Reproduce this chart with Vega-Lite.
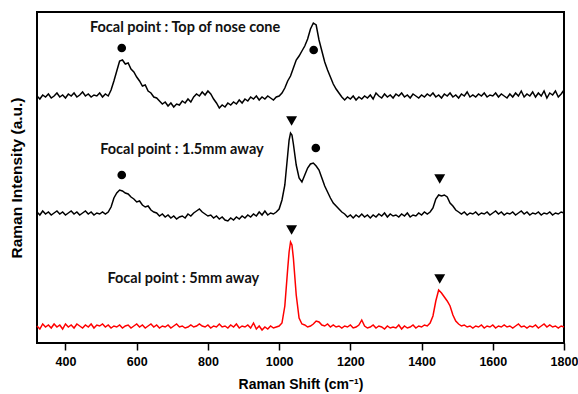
{
  "$schema": "https://vega.github.io/schema/vega-lite/v6.json",
  "autosize": "none",
  "width": 527,
  "height": 331,
  "padding": {"left": 37, "top": 12, "right": 14, "bottom": 51},
  "background": "white",
  "config": {
    "view": {"stroke": "black", "strokeWidth": 2},
    "axis": {"domain": false, "grid": false}
  },
  "datasets": {
    "top": [
      {"x":320,"y":247},{"x":328,"y":244},{"x":336,"y":248},{"x":344,"y":246},{"x":352,"y":249},{"x":360,"y":245},{"x":368,"y":247},{"x":376,"y":250},{"x":384,"y":246},{"x":392,"y":248},
      {"x":400,"y":245},{"x":408,"y":249},{"x":416,"y":247},{"x":424,"y":250},{"x":432,"y":246},{"x":440,"y":248},{"x":448,"y":251},{"x":456,"y":247},{"x":464,"y":249},{"x":472,"y":246},
      {"x":480,"y":248},{"x":488,"y":247},{"x":496,"y":250},{"x":504,"y":246},{"x":512,"y":249},{"x":520,"y":247},{"x":528,"y":253},{"x":536,"y":262},{"x":544,"y":272},{"x":552,"y":282},
      {"x":560,"y":283},{"x":568,"y":279},{"x":576,"y":280},{"x":584,"y":274},{"x":592,"y":271},{"x":600,"y":266},{"x":608,"y":262},{"x":616,"y":257},{"x":624,"y":258},{"x":632,"y":252},
      {"x":640,"y":250},{"x":648,"y":246},{"x":656,"y":245},{"x":664,"y":242},{"x":672,"y":239},{"x":680,"y":241},{"x":688,"y":237},{"x":696,"y":240},{"x":704,"y":236},{"x":712,"y":239},
      {"x":720,"y":238},{"x":728,"y":242},{"x":736,"y":240},{"x":744,"y":244},{"x":752,"y":241},{"x":760,"y":246},{"x":768,"y":249},{"x":776,"y":247},{"x":784,"y":251},{"x":792,"y":248},
      {"x":800,"y":252},{"x":808,"y":249},{"x":816,"y":244},{"x":824,"y":240},{"x":832,"y":235},{"x":840,"y":238},{"x":848,"y":236},{"x":856,"y":240},{"x":864,"y":238},{"x":872,"y":241},
      {"x":880,"y":239},{"x":888,"y":243},{"x":896,"y":240},{"x":904,"y":244},{"x":912,"y":242},{"x":920,"y":246},{"x":928,"y":244},{"x":936,"y":247},{"x":944,"y":243},{"x":952,"y":246},
      {"x":960,"y":244},{"x":968,"y":247},{"x":976,"y":245},{"x":984,"y":243},{"x":992,"y":246},{"x":1000,"y":247},{"x":1008,"y":250},{"x":1016,"y":255},{"x":1024,"y":262},{"x":1032,"y":267},
      {"x":1040,"y":275},{"x":1048,"y":283},{"x":1056,"y":287},{"x":1064,"y":292},{"x":1072,"y":297},{"x":1080,"y":304},{"x":1088,"y":314},{"x":1096,"y":320},{"x":1104,"y":318},{"x":1112,"y":303},
      {"x":1120,"y":292},{"x":1128,"y":281},{"x":1136,"y":273},{"x":1144,"y":266},{"x":1152,"y":259},{"x":1160,"y":254},{"x":1168,"y":250},{"x":1176,"y":246},{"x":1184,"y":243},{"x":1192,"y":246},
      {"x":1200,"y":244},{"x":1208,"y":247},{"x":1216,"y":243},{"x":1224,"y":246},{"x":1232,"y":244},{"x":1240,"y":247},{"x":1248,"y":245},{"x":1256,"y":248},{"x":1264,"y":244},{"x":1272,"y":250},
      {"x":1280,"y":247},{"x":1288,"y":245},{"x":1296,"y":249},{"x":1304,"y":246},{"x":1312,"y":248},{"x":1320,"y":245},{"x":1328,"y":249},{"x":1336,"y":247},{"x":1344,"y":250},{"x":1352,"y":246},
      {"x":1360,"y":248},{"x":1368,"y":245},{"x":1376,"y":249},{"x":1384,"y":247},{"x":1392,"y":245},{"x":1400,"y":248},{"x":1408,"y":246},{"x":1416,"y":249},{"x":1424,"y":247},{"x":1432,"y":250},
      {"x":1440,"y":246},{"x":1448,"y":248},{"x":1456,"y":245},{"x":1464,"y":249},{"x":1472,"y":247},{"x":1480,"y":250},{"x":1488,"y":246},{"x":1496,"y":248},{"x":1504,"y":245},{"x":1512,"y":249},
      {"x":1520,"y":247},{"x":1528,"y":251},{"x":1536,"y":246},{"x":1544,"y":248},{"x":1552,"y":246},{"x":1560,"y":249},{"x":1568,"y":247},{"x":1576,"y":250},{"x":1584,"y":246},{"x":1592,"y":248},
      {"x":1600,"y":247},{"x":1608,"y":250},{"x":1616,"y":246},{"x":1624,"y":249},{"x":1632,"y":247},{"x":1640,"y":245},{"x":1648,"y":249},{"x":1656,"y":246},{"x":1664,"y":250},{"x":1672,"y":247},
      {"x":1680,"y":252},{"x":1688,"y":246},{"x":1696,"y":249},{"x":1704,"y":247},{"x":1712,"y":251},{"x":1720,"y":246},{"x":1728,"y":250},{"x":1736,"y":247},{"x":1744,"y":252},{"x":1752,"y":245},
      {"x":1760,"y":250},{"x":1768,"y":248},{"x":1776,"y":252},{"x":1784,"y":246},{"x":1792,"y":249},{"x":1800,"y":253}
    ],
    "mid": [
      {"x":320,"y":131},{"x":328,"y":128},{"x":336,"y":132},{"x":344,"y":129},{"x":352,"y":131},{"x":360,"y":128},{"x":368,"y":130},{"x":376,"y":132},{"x":384,"y":129},{"x":392,"y":131},
      {"x":400,"y":128},{"x":408,"y":130},{"x":416,"y":132},{"x":424,"y":129},{"x":432,"y":131},{"x":440,"y":128},{"x":448,"y":130},{"x":456,"y":132},{"x":464,"y":129},{"x":472,"y":131},
      {"x":480,"y":128},{"x":488,"y":130},{"x":496,"y":129},{"x":504,"y":131},{"x":512,"y":129},{"x":520,"y":131},{"x":528,"y":136},{"x":536,"y":145},{"x":544,"y":150},{"x":552,"y":153},
      {"x":560,"y":152},{"x":568,"y":150},{"x":576,"y":149},{"x":584,"y":146},{"x":592,"y":144},{"x":600,"y":141},{"x":608,"y":142},{"x":616,"y":138},{"x":624,"y":136},{"x":632,"y":137},
      {"x":640,"y":133},{"x":648,"y":131},{"x":656,"y":130},{"x":664,"y":127},{"x":672,"y":129},{"x":680,"y":126},{"x":688,"y":128},{"x":696,"y":125},{"x":704,"y":127},{"x":712,"y":124},
      {"x":720,"y":126},{"x":728,"y":127},{"x":736,"y":125},{"x":744,"y":129},{"x":752,"y":127},{"x":760,"y":130},{"x":768,"y":132},{"x":776,"y":134},{"x":784,"y":131},{"x":792,"y":129},
      {"x":800,"y":127},{"x":808,"y":128},{"x":816,"y":125},{"x":824,"y":127},{"x":832,"y":124},{"x":840,"y":126},{"x":848,"y":123},{"x":856,"y":122},{"x":864,"y":125},{"x":872,"y":123},
      {"x":880,"y":126},{"x":888,"y":124},{"x":896,"y":127},{"x":904,"y":125},{"x":912,"y":128},{"x":920,"y":126},{"x":928,"y":129},{"x":936,"y":127},{"x":944,"y":131},{"x":952,"y":128},
      {"x":960,"y":132},{"x":968,"y":128},{"x":976,"y":130},{"x":984,"y":129},{"x":992,"y":131},{"x":1000,"y":134},{"x":1008,"y":143},{"x":1016,"y":158},{"x":1024,"y":188},{"x":1028,"y":203},
      {"x":1032,"y":210},{"x":1036,"y":208},{"x":1040,"y":199},{"x":1048,"y":178},{"x":1056,"y":165},{"x":1064,"y":161},{"x":1072,"y":168},{"x":1080,"y":175},{"x":1088,"y":179},{"x":1096,"y":180},
      {"x":1104,"y":177},{"x":1112,"y":173},{"x":1120,"y":165},{"x":1128,"y":157},{"x":1136,"y":151},{"x":1144,"y":145},{"x":1152,"y":140},{"x":1160,"y":137},{"x":1168,"y":134},{"x":1176,"y":131},
      {"x":1184,"y":129},{"x":1192,"y":126},{"x":1200,"y":128},{"x":1208,"y":125},{"x":1216,"y":128},{"x":1224,"y":126},{"x":1232,"y":129},{"x":1240,"y":126},{"x":1248,"y":128},{"x":1256,"y":125},
      {"x":1264,"y":128},{"x":1272,"y":126},{"x":1280,"y":129},{"x":1288,"y":127},{"x":1296,"y":130},{"x":1304,"y":126},{"x":1312,"y":129},{"x":1320,"y":127},{"x":1328,"y":128},{"x":1336,"y":126},
      {"x":1344,"y":129},{"x":1352,"y":127},{"x":1360,"y":130},{"x":1368,"y":126},{"x":1376,"y":128},{"x":1384,"y":127},{"x":1392,"y":130},{"x":1400,"y":128},{"x":1408,"y":131},{"x":1416,"y":129},
      {"x":1424,"y":131},{"x":1432,"y":135},{"x":1440,"y":144},{"x":1448,"y":148},{"x":1456,"y":147},{"x":1464,"y":148},{"x":1472,"y":146},{"x":1480,"y":140},{"x":1488,"y":137},{"x":1496,"y":133},
      {"x":1504,"y":131},{"x":1512,"y":129},{"x":1520,"y":131},{"x":1528,"y":128},{"x":1536,"y":130},{"x":1544,"y":129},{"x":1552,"y":131},{"x":1560,"y":128},{"x":1568,"y":130},{"x":1576,"y":129},
      {"x":1584,"y":131},{"x":1592,"y":128},{"x":1600,"y":130},{"x":1608,"y":132},{"x":1616,"y":129},{"x":1624,"y":131},{"x":1632,"y":128},{"x":1640,"y":130},{"x":1648,"y":129},{"x":1656,"y":131},
      {"x":1664,"y":128},{"x":1672,"y":130},{"x":1680,"y":132},{"x":1688,"y":129},{"x":1696,"y":131},{"x":1704,"y":128},{"x":1712,"y":130},{"x":1720,"y":129},{"x":1728,"y":131},{"x":1736,"y":128},
      {"x":1744,"y":130},{"x":1752,"y":129},{"x":1760,"y":131},{"x":1768,"y":128},{"x":1776,"y":130},{"x":1784,"y":129},{"x":1792,"y":131},{"x":1800,"y":130}
    ],
    "bot": [
      {"x":320,"y":17},{"x":328,"y":14},{"x":336,"y":19},{"x":344,"y":16},{"x":352,"y":18},{"x":360,"y":15},{"x":368,"y":19},{"x":376,"y":16},{"x":384,"y":18},{"x":392,"y":14},
      {"x":400,"y":19},{"x":408,"y":16},{"x":416,"y":18},{"x":424,"y":15},{"x":432,"y":19},{"x":440,"y":17},{"x":448,"y":15},{"x":456,"y":18},{"x":464,"y":16},{"x":472,"y":19},
      {"x":480,"y":15},{"x":488,"y":18},{"x":496,"y":17},{"x":504,"y":19},{"x":512,"y":16},{"x":520,"y":18},{"x":528,"y":15},{"x":536,"y":17},{"x":544,"y":16},{"x":552,"y":18},
      {"x":560,"y":15},{"x":568,"y":17},{"x":576,"y":18},{"x":584,"y":15},{"x":592,"y":17},{"x":600,"y":19},{"x":608,"y":16},{"x":616,"y":18},{"x":624,"y":15},{"x":632,"y":17},
      {"x":640,"y":19},{"x":648,"y":16},{"x":656,"y":18},{"x":664,"y":15},{"x":672,"y":17},{"x":680,"y":16},{"x":688,"y":18},{"x":696,"y":15},{"x":704,"y":17},{"x":712,"y":19},
      {"x":720,"y":16},{"x":728,"y":17},{"x":736,"y":15},{"x":744,"y":16},{"x":752,"y":18},{"x":760,"y":16},{"x":768,"y":17},{"x":776,"y":19},{"x":784,"y":17},{"x":792,"y":16},
      {"x":800,"y":18},{"x":808,"y":15},{"x":816,"y":17},{"x":824,"y":16},{"x":832,"y":19},{"x":840,"y":16},{"x":848,"y":17},{"x":856,"y":15},{"x":864,"y":18},{"x":872,"y":16},
      {"x":880,"y":19},{"x":888,"y":15},{"x":896,"y":17},{"x":904,"y":16},{"x":912,"y":18},{"x":920,"y":15},{"x":928,"y":20},{"x":936,"y":14},{"x":944,"y":17},{"x":952,"y":13},
      {"x":960,"y":16},{"x":968,"y":14},{"x":976,"y":17},{"x":984,"y":15},{"x":992,"y":16},{"x":1000,"y":17},{"x":1008,"y":20},{"x":1016,"y":37},{"x":1024,"y":74},{"x":1028,"y":91},
      {"x":1032,"y":101},{"x":1036,"y":98},{"x":1040,"y":85},{"x":1048,"y":48},{"x":1056,"y":25},{"x":1064,"y":19},{"x":1072,"y":18},{"x":1080,"y":16},{"x":1088,"y":17},{"x":1096,"y":19},
      {"x":1104,"y":22},{"x":1112,"y":21},{"x":1120,"y":18},{"x":1128,"y":17},{"x":1136,"y":19},{"x":1144,"y":16},{"x":1152,"y":18},{"x":1160,"y":16},{"x":1168,"y":17},{"x":1176,"y":15},
      {"x":1184,"y":17},{"x":1192,"y":16},{"x":1200,"y":18},{"x":1208,"y":15},{"x":1216,"y":16},{"x":1224,"y":18},{"x":1232,"y":23},{"x":1240,"y":17},{"x":1248,"y":15},{"x":1256,"y":16},
      {"x":1264,"y":18},{"x":1272,"y":15},{"x":1280,"y":17},{"x":1288,"y":16},{"x":1296,"y":14},{"x":1304,"y":17},{"x":1312,"y":15},{"x":1320,"y":16},{"x":1328,"y":15},{"x":1336,"y":18},
      {"x":1344,"y":14},{"x":1352,"y":17},{"x":1360,"y":15},{"x":1368,"y":16},{"x":1376,"y":18},{"x":1384,"y":15},{"x":1392,"y":17},{"x":1400,"y":16},{"x":1408,"y":18},{"x":1416,"y":17},
      {"x":1424,"y":20},{"x":1432,"y":27},{"x":1440,"y":42},{"x":1448,"y":53},{"x":1456,"y":50},{"x":1464,"y":46},{"x":1472,"y":42},{"x":1480,"y":37},{"x":1488,"y":28},{"x":1496,"y":22},
      {"x":1504,"y":19},{"x":1512,"y":17},{"x":1520,"y":18},{"x":1528,"y":16},{"x":1536,"y":17},{"x":1544,"y":15},{"x":1552,"y":17},{"x":1560,"y":16},{"x":1568,"y":18},{"x":1576,"y":15},
      {"x":1584,"y":17},{"x":1592,"y":16},{"x":1600,"y":18},{"x":1608,"y":15},{"x":1616,"y":17},{"x":1624,"y":16},{"x":1632,"y":18},{"x":1640,"y":16},{"x":1648,"y":17},{"x":1656,"y":15},
      {"x":1664,"y":17},{"x":1672,"y":19},{"x":1680,"y":16},{"x":1688,"y":17},{"x":1696,"y":15},{"x":1704,"y":17},{"x":1712,"y":16},{"x":1720,"y":18},{"x":1728,"y":15},{"x":1736,"y":17},
      {"x":1744,"y":19},{"x":1752,"y":16},{"x":1760,"y":18},{"x":1768,"y":16},{"x":1776,"y":17},{"x":1784,"y":15},{"x":1792,"y":17},{"x":1800,"y":16}
    ],
    "circles": [
      {"x":558,"y":295},
      {"x":1097,"y":293},
      {"x":558,"y":168},
      {"x":1103,"y":195}
    ],
    "triangles": [
      {"x":1035,"y":222},
      {"x":1451,"y":164},
      {"x":1035,"y":113},
      {"x":1451,"y":64}
    ],
    "labels": [
      {"x":736,"y":315,"t":"Focal point : Top of nose cone"},
      {"x":727,"y":193,"t":"Focal point : 1.5mm away"},
      {"x":731,"y":64,"t":"Focal point : 5mm away"}
    ]
  },
  "encoding": {
    "x": {
      "field": "x", "type": "quantitative",
      "scale": {"domain": [320, 1800], "nice": false, "zero": false},
      "axis": {
        "values": [400, 600, 800, 1000, 1200, 1400, 1600, 1800],
        "format": "d",
        "title": "Raman Shift (cm⁻¹)",
        "tickSize": 7, "tickColor": "black", "tickWidth": 1.5,
        "labelFont": "Liberation Sans", "labelFontSize": 12.5, "labelFontWeight": "bold", "labelColor": "black",
        "labelPadding": 5, "labelFlush": false,
        "titleFont": "Liberation Sans", "titleFontSize": 14, "titleFontWeight": "bold", "titleColor": "black",
        "titlePadding": 10
      }
    },
    "y": {
      "field": "y", "type": "quantitative",
      "scale": {"domain": [0, 331], "nice": false, "zero": false},
      "axis": {
        "labels": false, "ticks": false,
        "title": "Raman Intensity  (a.u.)",
        "titleFont": "Liberation Sans", "titleFontSize": 15.5, "titleFontWeight": "bold", "titleColor": "black",
        "titlePadding": 13
      }
    }
  },
  "layer": [
    {"data": {"name": "top"}, "mark": {"type": "line", "color": "black", "strokeWidth": 1.5}},
    {"data": {"name": "mid"}, "mark": {"type": "line", "color": "black", "strokeWidth": 1.5}},
    {"data": {"name": "bot"}, "mark": {"type": "line", "color": "#ff0000", "strokeWidth": 1.5}},
    {
      "data": {"name": "circles"},
      "mark": {"type": "point", "shape": "circle", "filled": true, "color": "black", "opacity": 1, "size": 75}
    },
    {
      "data": {"name": "triangles"},
      "mark": {"type": "point", "shape": "triangle-down", "filled": true, "color": "black", "opacity": 1, "size": 120}
    },
    {
      "data": {"name": "labels"},
      "mark": {"type": "text", "font": "Lato", "fontSize": 14.5, "fontWeight": "bold", "color": "#111111", "align": "center", "baseline": "middle"},
      "encoding": {"text": {"field": "t"}}
    }
  ]
}
